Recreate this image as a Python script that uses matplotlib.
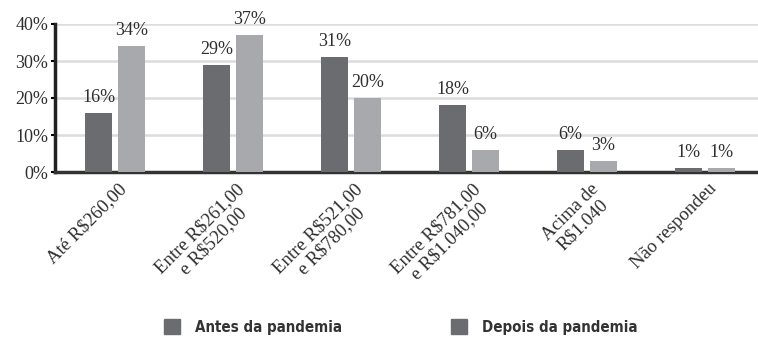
import matplotlib.pyplot as plt
import matplotlib.transforms as mtransforms
from matplotlib.patches import Patch
import numpy as np

categories = ["Até R$260,00", "Entre R$261,00\ne R$520,00", "Entre R$521,00\ne R$780,00",
              "Entre R$781,00\ne R$1.040,00", "Acima de\nR$1.040", "Não respondeu"]
antes = [16, 29, 31, 18, 6, 1]
depois = [34, 37, 20, 6, 3, 1]
legend_labels = ["Antes da pandemia", "Depois da pandemia"]

dark = "#6b6c70"
light = "#a8a9ac"
serif = ["Liberation Serif", "DejaVu Serif"]
txt = "#2e2e2e"

fig = plt.figure(figsize=(7.58, 3.38), dpi=100)
ax = fig.add_axes([55 / 758, 1 - 172 / 338, 1 - 55 / 758, (172 - 24) / 338])

x = np.arange(len(categories))
w = 0.23
off = 0.14
b1 = ax.bar(x - off, antes, w, color=dark, zorder=3)
b2 = ax.bar(x + off, depois, w, color=light, zorder=3)

for bars, vals in [(b1, antes), (b2, depois)]:
    for r, v in zip(bars, vals):
        ax.annotate(f"{v}%", (r.get_x() + r.get_width() / 2, v), xytext=(0, 5),
                    textcoords="offset points", ha="center", va="bottom",
                    fontsize=13, family=serif, color=txt)

ax.set_xlim(-0.51, 5.45)
ax.set_ylim(0, 40)
ax.set_yticks([0, 10, 20, 30, 40])
ax.set_yticklabels([f"{t}%" for t in [0, 10, 20, 30, 40]], family=serif, fontsize=13, color=txt)
ax.yaxis.grid(True, color="#dcdcdc", linewidth=1.8, zorder=0)
ax.tick_params(axis="y", length=3, width=1.5, pad=2)
ax.tick_params(axis="x", length=0, pad=6)

for s in ["top", "right"]:
    ax.spines[s].set_visible(False)
ax.spines["left"].set_linewidth(2.5)
ax.spines["left"].set_color("#222222")
ax.spines["bottom"].set_linewidth(2.5)
ax.spines["bottom"].set_color("#333333")

ax.set_xticks(x)
shift = mtransforms.ScaledTranslation(3 / 100, 0, fig.dpi_scale_trans)
labels = ax.set_xticklabels(categories, rotation=45, ha="right", va="top",
                            rotation_mode="anchor", multialignment="center",
                            family=serif, fontsize=13.5, color=txt, linespacing=1.1)
for lab in labels:
    lab.set_transform(lab.get_transform() + shift)

legend_font = {"family": "DejaVu Sans", "stretch": "condensed", "weight": "bold", "size": 10.8}
for xpos, lab in zip([156 / 758, 443 / 758], legend_labels):
    fig.legend([Patch(color=dark)], [lab], loc="center left", bbox_to_anchor=(xpos, 1 - 327 / 338),
               frameon=False, borderpad=0, handlelength=1.1, handleheight=1.1,
               handletextpad=1.0, prop=legend_font, labelcolor="#333333")

fig.savefig("out.png", dpi=100)
